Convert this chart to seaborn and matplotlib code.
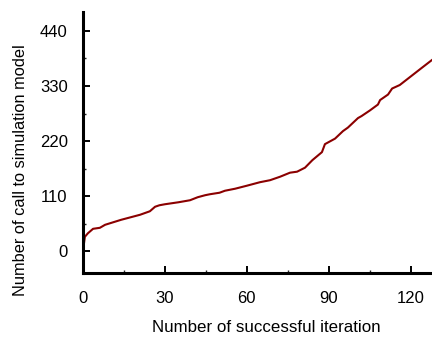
import matplotlib
matplotlib.use("Agg")
import matplotlib.pyplot as plt
from matplotlib.ticker import MultipleLocator
import seaborn as sns
import pandas as pd

# Cumulative number of simulation-model calls per successful iteration
iterations = [0, 0.7, 1.8, 3.7, 6.2, 8.1, 14, 20.9, 24.5, 26.4, 28, 30, 35, 39.2,
              42, 44.7, 46.5, 50, 52, 55.7, 60, 64.8, 68.5, 72.2, 74, 75.8, 78.4,
              81.3, 84, 87.5, 88.6, 92.3, 95.2, 97, 100.7, 102, 105, 108, 108.8,
              111.7, 113.2, 116, 120, 124, 127.8, 130]
model_calls = [0, 29, 36, 45, 47, 53, 63, 73, 80, 89, 92, 94, 98, 102,
               108, 112, 114, 117, 121, 125, 131, 138, 142, 149, 153, 157, 159,
               167, 182, 198, 214, 225, 240, 247, 266, 270, 281, 293, 302,
               313, 325, 332, 349, 366, 382, 390]

x_ticks = [0, 30, 60, 90, 120]
y_ticks = [0, 110, 220, 330, 440]

sns.set_theme(style="white")
plt.rcParams["font.family"] = ["Liberation Sans", "DejaVu Sans"]

df = pd.DataFrame({"iteration": iterations, "calls": model_calls})

fig = plt.figure(figsize=(4.32, 3.39), dpi=100)
ax = fig.add_axes([0.192, 0.195, 0.808, 0.770])

sns.lineplot(data=df, x="iteration", y="calls", ax=ax, color="#8b0000",
             linewidth=1.5, estimator=None, sort=False)

ax.set_xlim(0, 127.8)
ax.set_ylim(-43, 478)
ax.set_xticks(x_ticks)
ax.set_yticks(y_ticks)
ax.xaxis.set_minor_locator(MultipleLocator(15))
ax.yaxis.set_minor_locator(MultipleLocator(55))

for side in ("top", "right"):
    ax.spines[side].set_visible(False)
for side in ("left", "bottom"):
    ax.spines[side].set_linewidth(2.2)
    ax.spines[side].set_color("black")

ax.tick_params(axis="both", which="major", direction="in", length=5, width=1.4,
               labelsize=12, colors="black")
ax.tick_params(axis="both", which="minor", direction="in", length=2.5, width=1.0)
ax.tick_params(axis="y", which="major", pad=11)
ax.tick_params(axis="x", which="major", pad=13)
ax.tick_params(axis="x", which="both", bottom=True)
ax.tick_params(axis="y", which="both", left=True)

ax.set_xlabel("Number of successful iteration", fontsize=12.2, color="black")
ax.set_ylabel("Number of call to simulation model", fontsize=11.8, color="black")
ax.xaxis.set_label_coords(0.524, -0.18)
ax.yaxis.set_label_coords(-0.158, 0.393)

fig.savefig("out.png", dpi=100)
